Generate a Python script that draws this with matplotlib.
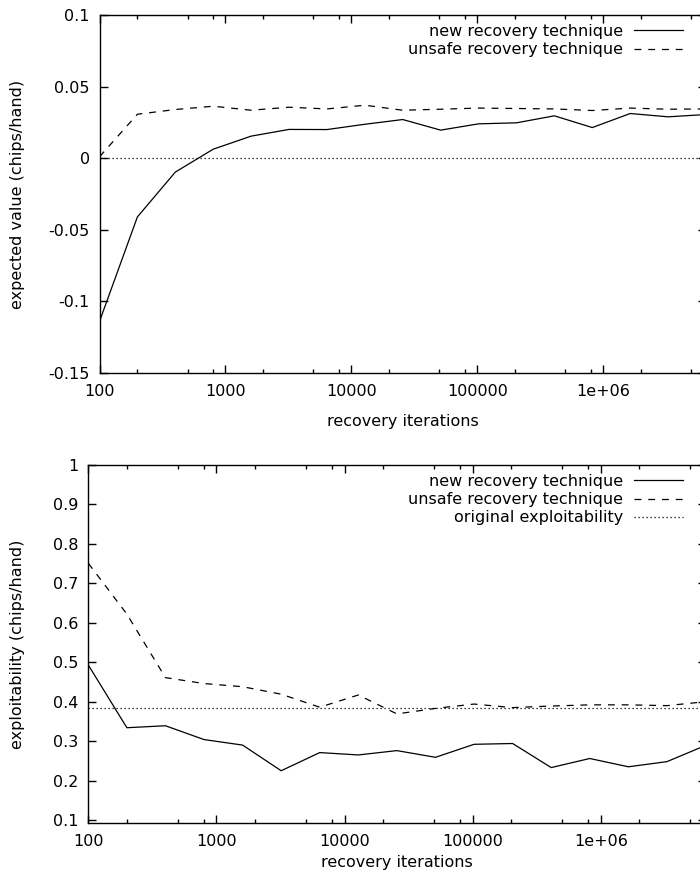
import matplotlib
matplotlib.use("Agg")
import matplotlib.pyplot as plt
from matplotlib.ticker import LogLocator, FixedLocator, FuncFormatter, NullFormatter
import numpy as np

# recovery iterations (doubling each step)
iterations = [100, 200, 400, 800, 1600, 3200, 6400, 12800, 25600, 51200,
              102400, 204800, 409600, 819200, 1638400, 3276800, 6553600]

# top panel: expected value (chips/hand)
ev_new = [-0.114, -0.041, -0.0097, 0.0063, 0.0154, 0.0201, 0.0200, 0.0237, 0.0270,
          0.0196, 0.0240, 0.0247, 0.0296, 0.0214, 0.0312, 0.0289, 0.0305]
ev_unsafe = [0.001, 0.0307, 0.0340, 0.0363, 0.0335, 0.0356, 0.0344, 0.0370, 0.0335,
             0.0342, 0.0350, 0.0347, 0.0344, 0.0333, 0.0350, 0.0342, 0.0344]

# bottom panel: exploitability (chips/hand)
expl_new = [0.493, 0.334, 0.339, 0.304, 0.290, 0.225, 0.271, 0.265, 0.276,
            0.259, 0.292, 0.294, 0.233, 0.256, 0.235, 0.248, 0.289]
expl_unsafe = [0.751, 0.622, 0.461, 0.446, 0.438, 0.419, 0.386, 0.417, 0.369,
               0.383, 0.394, 0.385, 0.389, 0.392, 0.392, 0.390, 0.400]
original_expl = 0.383

ev_ticks = [-0.15, -0.1, -0.05, 0, 0.05, 0.1]
expl_ticks = [0.1, 0.2, 0.3, 0.4, 0.5, 0.6, 0.7, 0.8, 0.9, 1.0]
x_ticks = [100, 1000, 10000, 100000, 1000000]
x_labels = ["100", "1000", "10000", "100000", "1e+06"]

plt.rcParams['font.family'] = ['DejaVu Sans']
plt.rcParams['font.size'] = 11.5

W, H = 700, 884
fig = plt.figure(figsize=(W / 100, H / 100), dpi=100)


def px_axes(left, top, right, bottom):
    # axes rectangle given in pixels; right edge may run past the figure
    return fig.add_axes([left / W, 1 - bottom / H, (right - left) / W, (bottom - top) / H])


def style_axes(ax, yticks):
    ax.set_xscale('log')
    ax.set_xlim(100, 6553600)
    ax.xaxis.set_major_locator(FixedLocator(x_ticks))
    ax.xaxis.set_major_formatter(FuncFormatter(lambda v, p: x_labels[x_ticks.index(int(round(v)))] if int(round(v)) in x_ticks else ""))
    ax.xaxis.set_minor_locator(LogLocator(base=10, subs=[2, 5, 8]))
    ax.xaxis.set_minor_formatter(NullFormatter())
    ax.yaxis.set_major_locator(FixedLocator(yticks))
    ax.yaxis.set_major_formatter(FuncFormatter(lambda v, p: "%g" % round(v, 4)))
    ax.tick_params(which='both', direction='in', top=True, right=True, width=1.0)
    ax.tick_params(which='major', length=5.8)
    ax.tick_params(which='minor', length=3.0)
    ax.tick_params(axis='x', pad=8)
    ax.tick_params(axis='y', pad=7)
    for s in ax.spines.values():
        s.set_linewidth(1.0)


lw = 0.9

# ---------------- top: expected value ----------------
ax1 = px_axes(99.5, 15, 706, 373)
ax1.plot(iterations, ev_new, color='black', lw=lw, label='new recovery technique')
ax1.plot(iterations, ev_unsafe, color='black', lw=lw, dashes=(5.5, 5.5), label='unsafe recovery technique')
ax1.axhline(0, color='black', lw=lw, dashes=(1, 2.2))
ax1.set_ylim(-0.15, 0.1)
style_axes(ax1, ev_ticks)
ax1.set_xlabel('recovery iterations')
ax1.set_ylabel('expected value (chips/hand)')
ax1.xaxis.set_label_coords(0.5, -0.114)
ax1.yaxis.set_label_coords(-0.123, 0.5)
ax1.legend(loc='upper right', bbox_to_anchor=(0.962, 0.975), frameon=False,
           markerfirst=False, handlelength=3.05, handletextpad=0.7,
           labelspacing=0.2, borderpad=0, borderaxespad=0)

# ---------------- bottom: exploitability ----------------
ax2 = px_axes(88.3, 465, 705.5, 823)
ax2.plot(iterations, expl_new, color='black', lw=lw, label='new recovery technique')
ax2.plot(iterations, expl_unsafe, color='black', lw=lw, dashes=(5.5, 5.5), label='unsafe recovery technique')
ax2.axhline(original_expl, color='black', lw=lw, dashes=(1, 2.2), label='original exploitability')
ax2.set_ylim(0.0925, 1.0)
style_axes(ax2, expl_ticks)
ax2.set_xlabel('recovery iterations')
ax2.set_ylabel('exploitability (chips/hand)')
ax2.xaxis.set_label_coords(0.5, -0.089)
ax2.yaxis.set_label_coords(-0.1026, 0.5)
ax2.legend(loc='upper right', bbox_to_anchor=(0.9635, 0.975), frameon=False,
           markerfirst=False, handlelength=3.05, handletextpad=0.7,
           labelspacing=0.2, borderpad=0, borderaxespad=0)

fig.savefig('out.png', dpi=100)
